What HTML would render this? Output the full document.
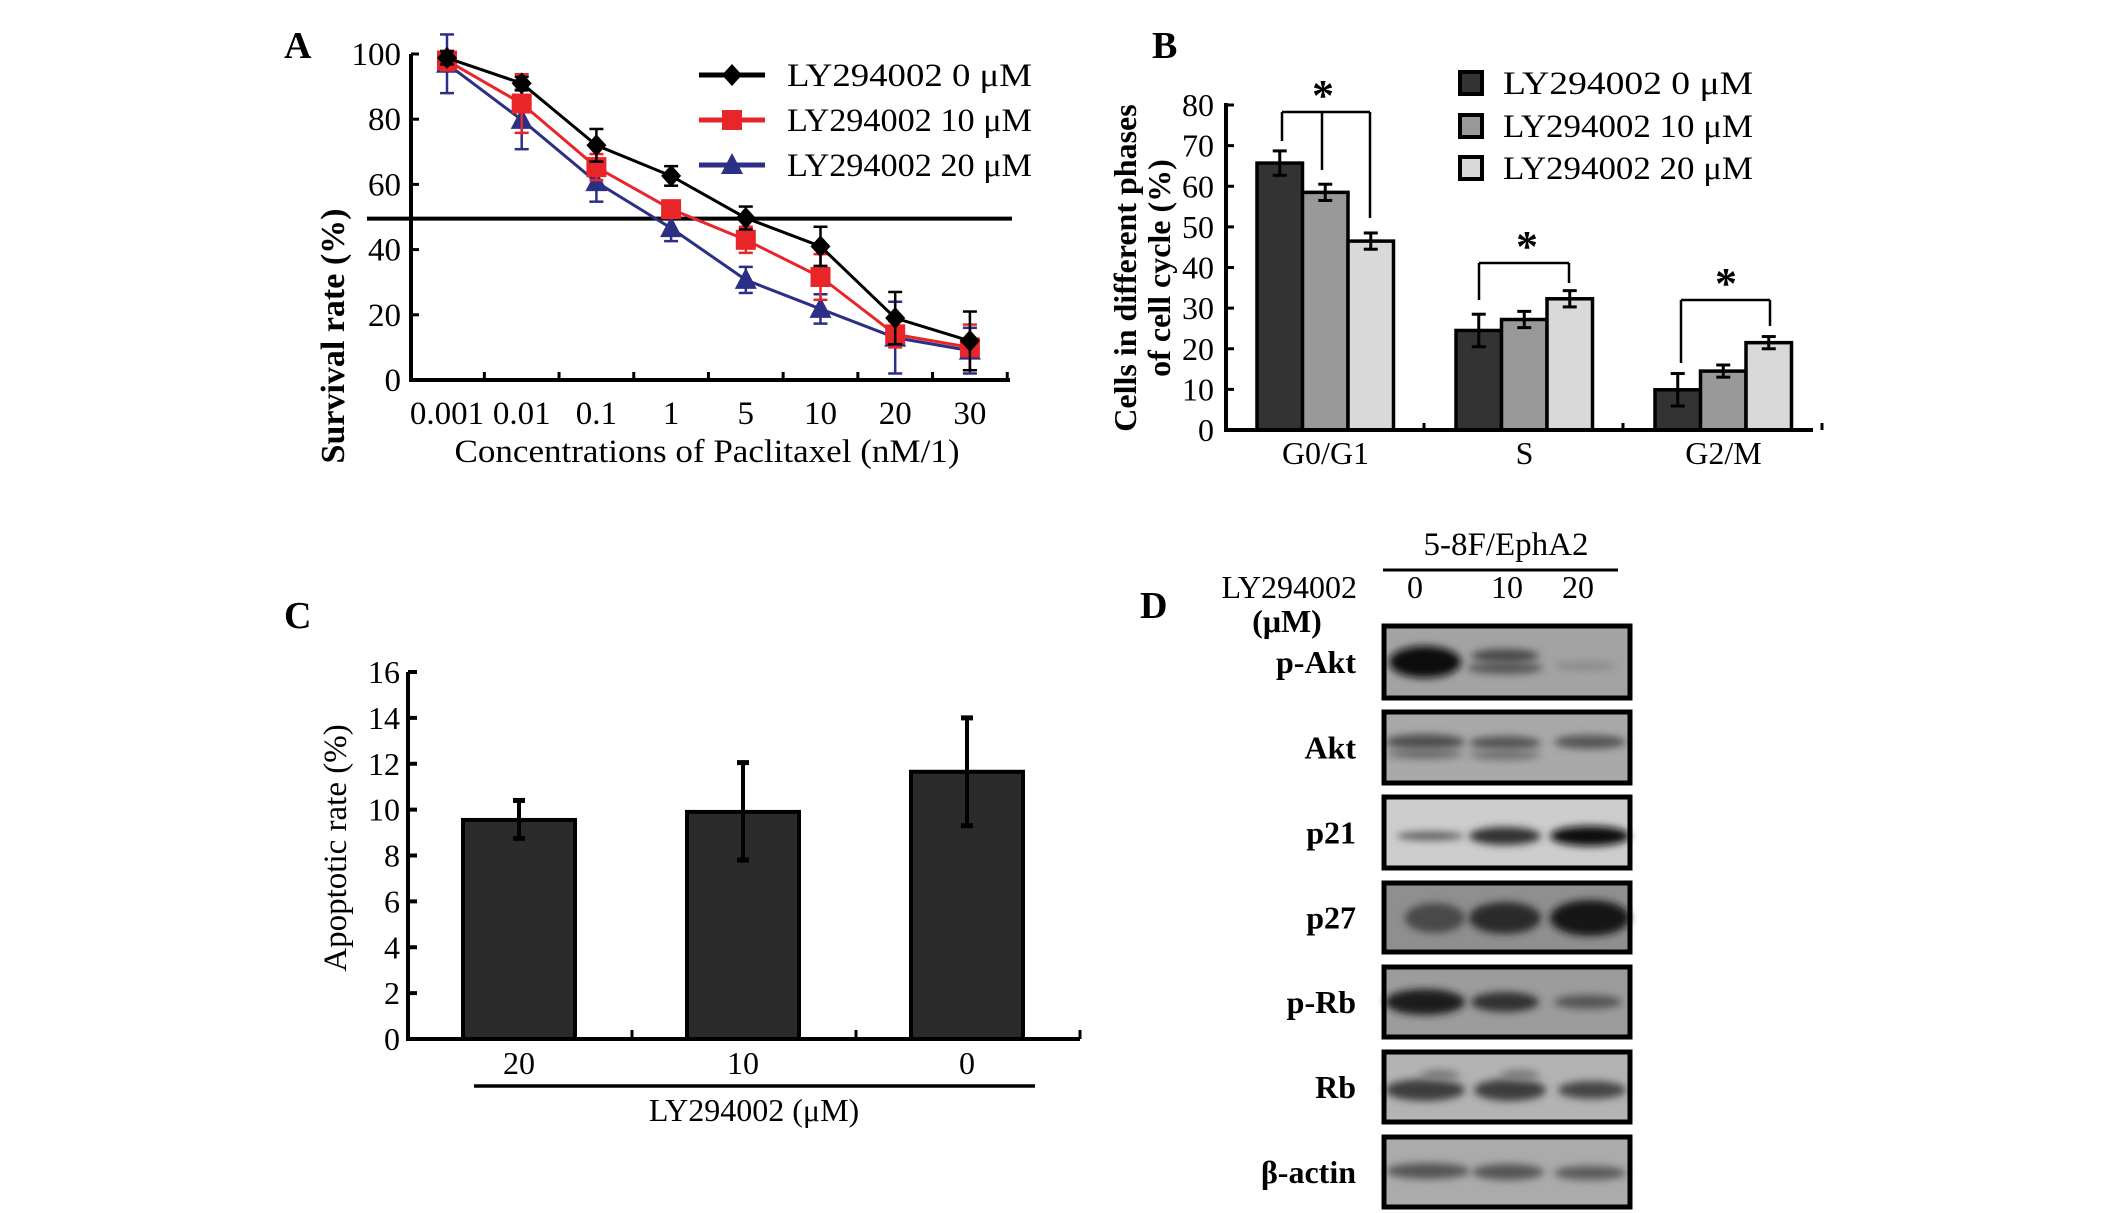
<!DOCTYPE html>
<html><head><meta charset="utf-8"><style>
html,body{margin:0;padding:0;background:#fff;}
svg{display:block;font-family:"Liberation Serif",serif;}
</style></head><body>
<svg id="fig" width="2126" height="1213" viewBox="0 0 2126 1213" xmlns="http://www.w3.org/2000/svg">
<defs>
<filter id="blur" x="-30%" y="-100%" width="160%" height="300%"><feGaussianBlur stdDeviation="4"/></filter>
</defs>
<g id="panelA"></g>
<g id="panelB"></g>
<g id="panelC"></g>
<g id="panelD"></g>
</svg>
<script>
// ---------- Panel A data ----------
const aCategories = ["0.001","0.01","0.1","1","5","10","20","30"];
const aTicks = [0,20,40,60,80,100];
const aSeriesNames = ["LY294002 0 μM","LY294002 10 μM","LY294002 20 μM"];
const aBlack = [98.8,91,72,62.6,49.7,41,19,12];
const aRed = [98,84.8,65.3,52.4,43,31.6,14,10];
const aBlue = [97,79.8,60.7,46.6,30.7,21.8,13,9];
const aBlackErr = [2,2,5,3,3.5,6,8,9];
const aRedErr = [3,9,4,2,4,7,4,7];
const aBlueErr = [9,9,6,4,4,4.5,11,7];
const aRef = 49.5;
// ---------- Panel B data ----------
const bCategories = ["G0/G1","S","G2/M"];
const bTicks = [0,10,20,30,40,50,60,70,80];
const bSeriesNames = ["LY294002 0 μM","LY294002 10 μM","LY294002 20 μM"];
const bDose0 = [65.7,24.5,9.9];
const bDose10 = [58.5,27.2,14.5];
const bDose20 = [46.5,32.3,21.5];
const bErr0 = [3,4,4];
const bErr10 = [2,2,1.5];
const bErr20 = [2,2,1.5];
// ---------- Panel C data ----------
const cCategories = ["20","10","0"];
const cTicks = [0,2,4,6,8,10,12,14,16];
const cValues = [9.55,9.9,11.65];
const cErrUp = [10.4,12.05,14.0];
const cErrDown = [8.75,7.8,9.3];

const NS="http://www.w3.org/2000/svg";
function mk(parent,tag,attrs,text){const e=document.createElementNS(NS,tag);for(const k in attrs)e.setAttribute(k,attrs[k]);if(text!==undefined)e.textContent=text;parent.appendChild(e);return e;}

// ================= Panel A =================
(function(){
const g=document.getElementById('panelA');
const x0=411,x1=1010,y0=380,yTop=54;
const ax=i=>447+i*74.7;
const ay=v=>y0-(v/100)*(y0-yTop);
let t=mk(g,'text',{x:284,y:58,'font-size':38,'font-weight':'bold'},'A');


let l=mk(g,'line',{x1:x0,y1:yTop,x2:x0,y2:y0+2,stroke:'#000','stroke-width':4});


l=mk(g,'line',{x1:x0-2,y1:y0,x2:x1,y2:y0,stroke:'#000','stroke-width':4});


aTicks.forEach(v=>{
 mk(g,'line',{x1:x0,y1:ay(v),x2:x0+8,y2:ay(v),stroke:'#000','stroke-width':3});
 const tt=mk(g,'text',{x:x0-10,y:ay(v)+11,'font-size':33,'text-anchor':'end'},String(v));
 
 
});
aCategories.forEach((c,i)=>{
 const tx=ax(i)+37.35;
 mk(g,'line',{x1:tx,y1:y0,x2:tx,y2:y0-8,stroke:'#000','stroke-width':3});
 const tt=mk(g,'text',{x:ax(i),y:424,'font-size':33,'text-anchor':'middle'},c);
 
 
});
t=mk(g,'text',{x:707,y:462,'font-size':33,'text-anchor':'middle',textLength:505,lengthAdjust:'spacingAndGlyphs'},'Concentrations of Paclitaxel (nM/1)');


t=mk(g,'text',{x:0,y:0,'font-size':34,'font-weight':'bold','text-anchor':'middle',transform:'translate(344,336) rotate(-90)'},'Survival rate (%)');


l=mk(g,'line',{x1:367,y1:ay(aRef),x2:1012,y2:ay(aRef),stroke:'#000','stroke-width':4});


const series=[[aBlack,aBlackErr,'#000','diamond'],[aRed,aRedErr,'#e8262a','square'],[aBlue,aBlueErr,'#2b2f85','triangle']];
function marker(par,type,cx,cy,col){
 if(type==='diamond')return mk(par,'polygon',{points:`${cx},${cy-11} ${cx+10},${cy} ${cx},${cy+11} ${cx-10},${cy}`,fill:col});
 if(type==='square')return mk(par,'rect',{x:cx-10,y:cy-10,width:20,height:20,fill:col});
 return mk(par,'polygon',{points:`${cx},${cy-12} ${cx+11},${cy+9} ${cx-11},${cy+9}`,fill:col});
}
series.slice().reverse().forEach(([vals,errs,col,type],si)=>{
 const sg=mk(g,'g',{});
 
 
 vals.forEach((v,i)=>{
  const cx=ax(i),e=errs[i];
  mk(sg,'line',{x1:cx,y1:ay(v+e),x2:cx,y2:ay(v-e),stroke:col,'stroke-width':2.5});
  mk(sg,'line',{x1:cx-7,y1:ay(v+e),x2:cx+7,y2:ay(v+e),stroke:col,'stroke-width':2.5});
  mk(sg,'line',{x1:cx-7,y1:ay(v-e),x2:cx+7,y2:ay(v-e),stroke:col,'stroke-width':2.5});
 });
 mk(sg,'polyline',{points:vals.map((v,i)=>ax(i)+','+ay(v)).join(' '),fill:'none',stroke:col,'stroke-width':3});
 vals.forEach((v,i)=>{
  const m=marker(sg,type,ax(i),ay(v),col);
  
  
 });
});
const legY=[75,120,165];
series.forEach(([vals,errs,col,type],i)=>{
 const lg=mk(g,'g',{});
 
 
 mk(lg,'line',{x1:699,y1:legY[i],x2:765,y2:legY[i],stroke:col,'stroke-width':5});
 marker(lg,type,732,legY[i],col);
 mk(lg,'text',{x:787,y:legY[i]+11,'font-size':33,textLength:245,lengthAdjust:'spacingAndGlyphs'},aSeriesNames[i]);
});
})();

// ================= Panel B =================
(function(){
const g=document.getElementById('panelB');
const x0=1226,x1=1813,y0=430,yTop=105;
const by=v=>y0-(v/80)*(y0-yTop);
const gw=199,bw=45.5;
const bx=(gi,si)=>x0+31+gi*gw+si*bw;
let t=mk(g,'text',{x:1152,y:58,'font-size':38,'font-weight':'bold'},'B');


const fills=['#333333','#999999','#d9d9d9'];
const vals=[bDose0,bDose10,bDose20],errs=[bErr0,bErr10,bErr20];
bCategories.forEach((c,gi)=>{
 vals.forEach((arr,si)=>{
  const v=arr[gi],e=errs[si][gi];
  const r=mk(g,'rect',{x:bx(gi,si),y:by(v),width:bw,height:y0-by(v),fill:fills[si],stroke:'#000','stroke-width':3.5});
  
  
  const cx=bx(gi,si)+bw/2;
  mk(g,'line',{x1:cx,y1:by(v+e),x2:cx,y2:by(v-e),stroke:'#000','stroke-width':3});
  mk(g,'line',{x1:cx-7,y1:by(v+e),x2:cx+7,y2:by(v+e),stroke:'#000','stroke-width':3});
  mk(g,'line',{x1:cx-7,y1:by(v-e),x2:cx+7,y2:by(v-e),stroke:'#000','stroke-width':3});
 });
 const tt=mk(g,'text',{x:x0+gi*gw+gw/2,y:464,'font-size':32,'text-anchor':'middle'},c);
 
 
 mk(g,'line',{x1:x0+(gi+1)*gw-1,y1:y0,x2:x0+(gi+1)*gw-1,y2:y0-7,stroke:'#000','stroke-width':3});
});
let l=mk(g,'line',{x1:x0,y1:yTop-2,x2:x0,y2:y0+2,stroke:'#000','stroke-width':4});


l=mk(g,'line',{x1:x0-2,y1:y0,x2:x1,y2:y0,stroke:'#000','stroke-width':4});


bTicks.forEach(v=>{
 mk(g,'line',{x1:x0,y1:by(v),x2:x0+8,y2:by(v),stroke:'#000','stroke-width':3});
 const tt=mk(g,'text',{x:x0-12,y:by(v)+11,'font-size':32,'text-anchor':'end'},String(v));
 
 
});
t=mk(g,'text',{x:0,y:0,'font-size':32,'font-weight':'bold','text-anchor':'middle',transform:'translate(1136,268) rotate(-90)'},'Cells in different phases');


t=mk(g,'text',{x:0,y:0,'font-size':32,'font-weight':'bold','text-anchor':'middle',transform:'translate(1170,268) rotate(-90)'},'of cell cycle (%)');


function bracket(name,yb,xs,ys,starX){
 const bg=mk(g,'g',{});
 
 
 mk(bg,'line',{x1:xs[0],y1:yb,x2:xs[xs.length-1],y2:yb,stroke:'#000','stroke-width':2.5});
 xs.forEach((x,i)=>mk(bg,'line',{x1:x,y1:yb,x2:x,y2:ys[i],stroke:'#000','stroke-width':2.5}));
 mk(bg,'text',{x:starX,y:yb-2,'font-size':44,'font-weight':'bold','text-anchor':'middle'},'*');
}
bracket('b-significance-g0g1',112,[1282,1322,1370],[141,170,218],1323);
bracket('b-significance-s',263,[1479,1569],[300,283],1527);
bracket('b-significance-g2m',300,[1681,1770],[363,326],1726);
const legY=[83,126,168];
bSeriesNames.forEach((n,i)=>{
 const lg=mk(g,'g',{});
 
 
 mk(lg,'rect',{x:1460,y:legY[i]-11,width:22,height:22,fill:fills[i],stroke:'#000','stroke-width':4});
 mk(lg,'text',{x:1503,y:legY[i]+11,'font-size':33,textLength:250,lengthAdjust:'spacingAndGlyphs'},n);
});
})();

// ================= Panel C =================
(function(){
const g=document.getElementById('panelC');
const x0=408,x1=1080,y0=1039,yTop=672;
const cy=v=>y0-(v/16)*(y0-yTop);
const gw=224,bw=112;
let t=mk(g,'text',{x:284,y:628,'font-size':38,'font-weight':'bold'},'C');


cCategories.forEach((c,i)=>{
 const cx=x0+gw*i+gw/2-1,v=cValues[i];
 const r=mk(g,'rect',{x:cx-bw/2,y:cy(v),width:bw,height:y0-cy(v),fill:'#2b2b2b',stroke:'#000','stroke-width':4});
 
 
 mk(g,'line',{x1:cx,y1:cy(cErrUp[i]),x2:cx,y2:cy(cErrDown[i]),stroke:'#000','stroke-width':4});
 mk(g,'line',{x1:cx-6,y1:cy(cErrUp[i]),x2:cx+6,y2:cy(cErrUp[i]),stroke:'#000','stroke-width':5});
 mk(g,'line',{x1:cx-6,y1:cy(cErrDown[i]),x2:cx+6,y2:cy(cErrDown[i]),stroke:'#000','stroke-width':5});
 const tt=mk(g,'text',{x:cx,y:1074,'font-size':32,'text-anchor':'middle'},c);
 
 
 mk(g,'line',{x1:x0+gw*(i+1),y1:y0,x2:x0+gw*(i+1),y2:y0-9,stroke:'#000','stroke-width':3});
});
let l=mk(g,'line',{x1:x0,y1:yTop,x2:x0,y2:y0+2,stroke:'#000','stroke-width':4});


l=mk(g,'line',{x1:x0-2,y1:y0,x2:x1,y2:y0,stroke:'#000','stroke-width':4});


cTicks.forEach(v=>{
 mk(g,'line',{x1:x0,y1:cy(v),x2:x0+9,y2:cy(v),stroke:'#000','stroke-width':4});
 const tt=mk(g,'text',{x:x0-8,y:cy(v)+11,'font-size':32,'text-anchor':'end'},String(v));
 
 
});
l=mk(g,'line',{x1:474,y1:1086,x2:1035,y2:1086,stroke:'#000','stroke-width':3.5});


t=mk(g,'text',{x:754,y:1121,'font-size':32,'text-anchor':'middle'},'LY294002 (μM)');


t=mk(g,'text',{x:0,y:0,'font-size':33,'text-anchor':'middle',transform:'translate(346,848) rotate(-90)'},'Apoptotic rate (%)');


})();

// ================= Panel D =================
(function(){
const g=document.getElementById('panelD');
let t=mk(g,'text',{x:1140,y:618,'font-size':38,'font-weight':'bold'},'D');


t=mk(g,'text',{x:1506,y:555,'font-size':33,'text-anchor':'middle'},'5-8F/EphA2');


let l=mk(g,'line',{x1:1383,y1:570,x2:1618,y2:570,stroke:'#000','stroke-width':3});


t=mk(g,'text',{x:1357,y:598,'font-size':32,'text-anchor':'end'},'LY294002');


t=mk(g,'text',{x:1287,y:632,'font-size':32,'font-weight':'bold','text-anchor':'middle'},'(μM)');


[['0',1415],['10',1507],['20',1578]].forEach(([s,x])=>{
 const tt=mk(g,'text',{x:x,y:598,'font-size':32,'text-anchor':'middle'},s);
 
 
});
const rows=[
 ['p-Akt',626,698,'#a3a3a3',[[1425,662,36,16,'#101010'],[1505,656,34,7,'#4a4a4a'],[1505,668,38,6,'#555'],[1585,666,32,4,'#888']]],
 ['Akt',712,783,'#a9a9a9',[[1425,742,40,8,'#505050'],[1505,743,36,7,'#555'],[1590,742,36,7,'#555'],[1505,755,36,5,'#707070'],[1425,754,38,5,'#6a6a6a']]],
 ['p21',797,868,'#cdcdcd',[[1430,836,34,4,'#555'],[1505,836,36,9,'#333'],[1590,836,40,10,'#111']]],
 ['p27',883,952,'#8f8f8f',[[1435,918,30,15,'#4a4a4a'],[1505,918,36,16,'#2a2a2a'],[1590,918,40,18,'#141414']]],
 ['p-Rb',967,1037,'#9c9c9c',[[1425,1002,40,13,'#1c1c1c'],[1505,1002,34,10,'#333'],[1588,1002,34,7,'#555']]],
 ['Rb',1052,1122,'#b3b3b3',[[1425,1090,40,11,'#3c3c3c'],[1510,1090,36,11,'#3c3c3c'],[1592,1090,34,9,'#454545'],[1440,1075,20,5,'#777'],[1520,1075,20,5,'#777']]],
 ['β-actin',1137,1207,'#ababab',[[1428,1171,42,8,'#555'],[1508,1172,36,8,'#555'],[1590,1173,36,7,'#5a5a5a']]]
];
rows.forEach(([name,y1,y2,bg,bands])=>{
 const rg=mk(g,'g',{});
 
 
 mk(rg,'rect',{x:1384,y:y1,width:246,height:y2-y1,fill:bg});
 bands.forEach(([cx,cy,rx,ry,col])=>mk(rg,'ellipse',{cx:cx,cy:cy,rx:rx,ry:ry,fill:col,filter:'url(#blur)'}));
 mk(rg,'rect',{x:1384,y:y1,width:246,height:y2-y1,fill:'none',stroke:'#000','stroke-width':5});
 const tt=mk(rg,'text',{x:1356,y:(y1+y2)/2+11,'font-size':32,'font-weight':'bold','text-anchor':'end'},name);
 
 
});
})();
</script>
</body></html>
